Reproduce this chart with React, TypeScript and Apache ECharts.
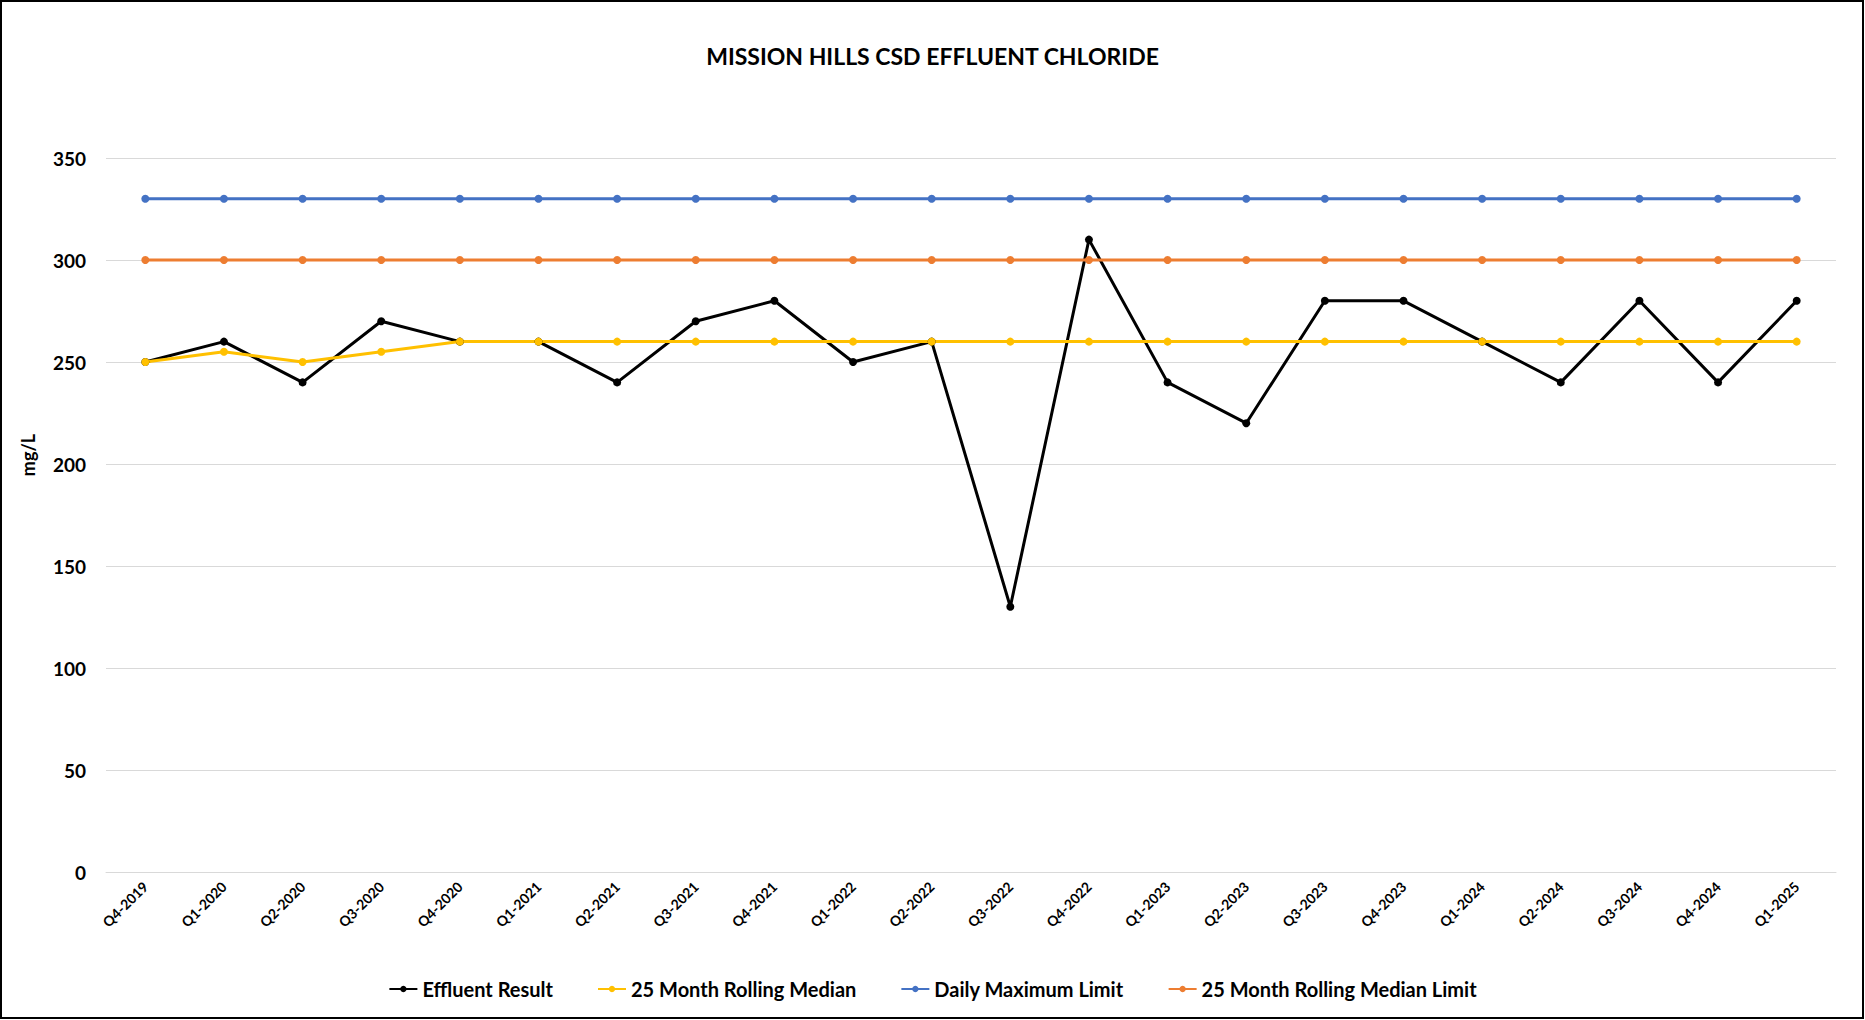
import React, { useEffect, useRef } from "react";
import * as echarts from "echarts";

const categories = [
  "Q4-2019", "Q1-2020", "Q2-2020", "Q3-2020", "Q4-2020", "Q1-2021", "Q2-2021", "Q3-2021",
  "Q4-2021", "Q1-2022", "Q2-2022", "Q3-2022", "Q4-2022", "Q1-2023", "Q2-2023", "Q3-2023",
  "Q4-2023", "Q1-2024", "Q2-2024", "Q3-2024", "Q4-2024", "Q1-2025",
];
const effluentResult = [250, 260, 240, 270, 260, 260, 240, 270, 280, 250, 260, 130, 310, 240, 220, 280, 280, 260, 240, 280, 240, 280];
const rollingMedian = [250, 255, 250, 255, 260, 260, 260, 260, 260, 260, 260, 260, 260, 260, 260, 260, 260, 260, 260, 260, 260, 260];
const dailyMaxLimit = [330, 330, 330, 330, 330, 330, 330, 330, 330, 330, 330, 330, 330, 330, 330, 330, 330, 330, 330, 330, 330, 330];
const rollingMedianLimit = [300, 300, 300, 300, 300, 300, 300, 300, 300, 300, 300, 300, 300, 300, 300, 300, 300, 300, 300, 300, 300, 300];

const FONT = "Lato";

export default function App() {
  const ref = useRef<HTMLDivElement>(null);
  useEffect(() => {
    if (!ref.current) return;
    const chart = echarts.init(ref.current, undefined, { renderer: "svg" });
    const mk = (name: string, data: number[], color: string) => ({
      name,
      type: "line",
      data,
      symbol: "circle",
      symbolSize: 8,
      lineStyle: { color, width: 3 },
      itemStyle: { color },
      emphasis: { disabled: true },
    });
    chart.setOption({
      animation: false,
      backgroundColor: "#ffffff",
      textStyle: { fontFamily: FONT },
      title: {
        text: "MISSION HILLS CSD EFFLUENT CHLORIDE",
        left: "center",
        top: 39,
        textStyle: { fontFamily: FONT, fontWeight: "bold", fontSize: 23, color: "#000" },
      },
      grid: { left: 106, right: 29, top: 158, bottom: 148, containLabel: false },
      legend: {
        bottom: 16,
        left: "center",
        itemGap: 44,
        itemWidth: 28,
        itemHeight: 8,
        textStyle: { fontFamily: FONT, fontWeight: "bold", fontSize: 20, color: "#000" },
        data: ["Effluent Result", "25 Month Rolling Median", "Daily Maximum Limit", "25 Month Rolling Median Limit"],
      },
      xAxis: {
        type: "category",
        data: categories,
        boundaryGap: true,
        axisLine: { lineStyle: { color: "#D9D9D9" } },
        axisTick: { show: false },
        axisLabel: {
          rotate: 45,
          interval: 0,
          margin: 12,
          fontFamily: FONT,
          fontWeight: "bold",
          fontSize: 14,
          color: "#000",
        },
      },
      yAxis: {
        type: "value",
        min: 0,
        max: 350,
        interval: 50,
        axisLine: { show: false },
        axisTick: { show: false },
        splitLine: { lineStyle: { color: "#D9D9D9", width: 1 } },
        axisLabel: { fontFamily: FONT, fontWeight: "bold", fontSize: 19, color: "#000", margin: 20 },
      },
      graphic: [
        {
          type: "text",
          x: 28,
          y: 455,
          rotation: Math.PI / 2,
          style: {
            text: "mg/L",
            fontFamily: FONT,
            fontWeight: "bold",
            fontSize: 18,
            fill: "#000",
            align: "center",
            verticalAlign: "middle",
          },
        },
        {
          type: "rect",
          shape: { x: 1, y: 1, width: 1862, height: 1017 },
          style: { fill: "none", stroke: "#000", lineWidth: 2 },
          silent: true,
        },
      ],
      series: [
        mk("Effluent Result", effluentResult, "#000000"),
        mk("25 Month Rolling Median", rollingMedian, "#FFC000"),
        mk("Daily Maximum Limit", dailyMaxLimit, "#4472C4"),
        mk("25 Month Rolling Median Limit", rollingMedianLimit, "#ED7D31"),
      ],
    });
    return () => chart.dispose();
  }, []);
  return (
    <div
      ref={ref}
      style={{ position: "fixed", left: 0, top: 0, width: 1865, height: 1020 }}
    />
  );
}
